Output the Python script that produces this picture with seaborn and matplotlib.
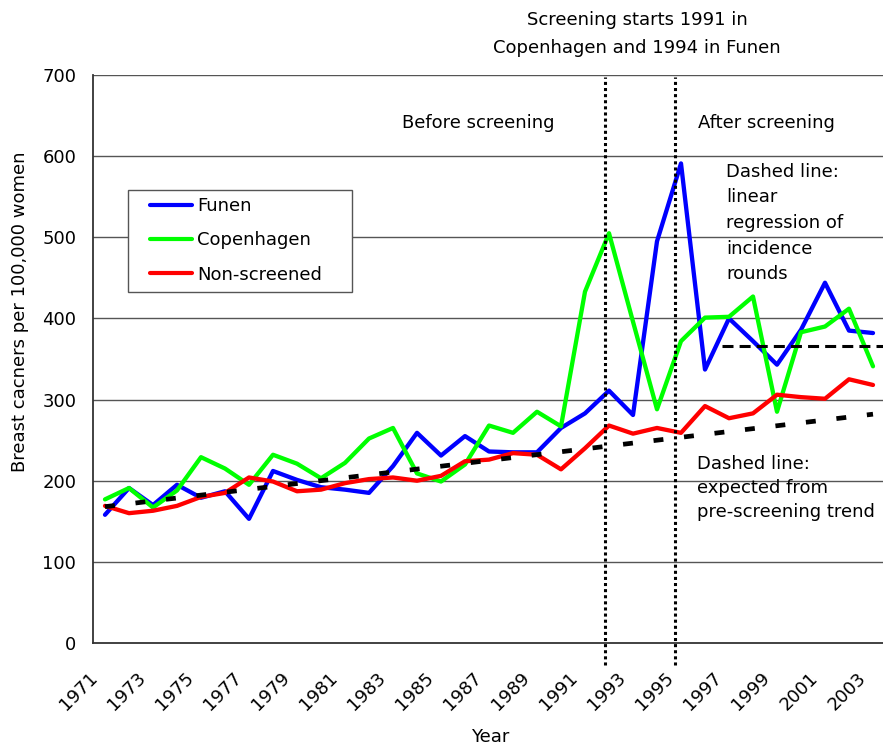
import matplotlib
matplotlib.use("Agg")
import matplotlib.pyplot as plt
import matplotlib.transforms as mtransforms
from matplotlib.patches import Rectangle
from matplotlib.lines import Line2D
import numpy as np
import pandas as pd
import seaborn as sns

years = [1971, 1972, 1973, 1974, 1975, 1976, 1977, 1978, 1979, 1980, 1981,
         1982, 1983, 1984, 1985, 1986, 1987, 1988, 1989, 1990, 1991, 1992,
         1993, 1994, 1995, 1996, 1997, 1998, 1999, 2000, 2001, 2002, 2003]
funen = [158, 191, 170, 195, 179, 187, 153, 212, 201, 192, 189, 185,
         218, 259, 231, 255, 236, 235, 235, 265, 283, 311, 281, 495,
         591, 337, 400, 372, 343, 386, 444, 385, 382]
copenhagen = [177, 191, 167, 188, 229, 215, 195, 232, 221, 203, 222, 252,
              265, 209, 199, 220, 268, 259, 285, 267, 433, 505, 396, 288,
              372, 401, 402, 427, 285, 383, 390, 412, 341]
nonscreened = [169, 160, 163, 169, 180, 185, 204, 199, 187, 189, 197, 202,
               204, 200, 206, 224, 226, 234, 232, 214, 240, 268, 258, 265,
               259, 292, 277, 283, 306, 303, 301, 325, 318]
series_names = ["Funen", "Copenhagen", "Non-screened"]
series_colors = ["#0000FF", "#00FF00", "#FF0000"]

trend_years = [1971, 2003]
trend_values = [168, 282]
rounds_years = [1996.7, 2003.45]
rounds_values = [366, 366]
screen_start_years = [1991.83, 1994.75]

tick_years = [1971, 1973, 1975, 1977, 1979, 1981, 1983, 1985, 1987, 1989,
              1991, 1993, 1995, 1997, 1999, 2001, 2003]
y_ticks = [0, 100, 200, 300, 400, 500, 600, 700]

df = pd.DataFrame({
    "Year": years * 3,
    "Rate": funen + copenhagen + nonscreened,
    "Series": [series_names[0]] * len(years) + [series_names[1]] * len(years)
              + [series_names[2]] * len(years),
})

sns.set_style("white")
plt.rcParams["font.family"] = ["DejaVu Sans"]
plt.rcParams["text.color"] = "black"
plt.rcParams["axes.labelcolor"] = "black"
plt.rcParams["xtick.color"] = "black"
plt.rcParams["ytick.color"] = "black"
FS = 13

W, H = 883, 746
fig = plt.figure(figsize=(W / 100, H / 100), dpi=100)
ax = fig.add_axes([93 / W, (H - 643) / H, 792 / W, (643 - 75) / H])

ax.set_xlim(1970.5, 2003.5)
ax.set_ylim(0, 700)

for v in y_ticks[1:]:
    ax.axhline(v, color="#555555", lw=1.0, zorder=0.5)

sns.lineplot(data=df, x="Year", y="Rate", hue="Series",
             palette=dict(zip(series_names, series_colors)),
             linewidth=3.1, ax=ax, legend=False, zorder=3)

ax.plot(trend_years, trend_values, color="black", lw=3.4,
        dashes=(2.1, 4.4), zorder=4, dash_capstyle="butt")
ax.plot(rounds_years, rounds_values, color="black", lw=2.2,
        dashes=(3.6, 2.0), zorder=4, dash_capstyle="butt")

for yr in screen_start_years:
    ax.plot([yr, yr], [-27, 697], color="black", lw=2.2,
            linestyle=(0, (1, 1)), clip_on=False, zorder=5)

for s in ["top", "right"]:
    ax.spines[s].set_visible(False)
for s in ["left", "bottom"]:
    ax.spines[s].set_color("#333333")
    ax.spines[s].set_linewidth(1.3)

ax.set_yticks(y_ticks)
ax.set_yticklabels([str(v) for v in y_ticks], fontsize=FS)
ax.tick_params(axis="y", direction="out", length=5, width=1, color="#333333", pad=7)

ax.set_xticks(tick_years)
ax.set_xticklabels([str(y) for y in tick_years], fontsize=FS,
                   rotation=45, ha="right", va="center", rotation_mode="anchor")
ax.set_xticks([1970.5 + k for k in range(34)], minor=True)
ax.tick_params(axis="x", which="major", length=0, pad=23)
ax.tick_params(axis="x", which="minor", direction="out", length=5, width=1, color="#333333")
offset = mtransforms.ScaledTranslation(-10 / 100, 0, fig.dpi_scale_trans)
for lab in ax.get_xticklabels():
    lab.set_transform(lab.get_transform() + offset)

ax.set_xlabel("")
ax.set_ylabel("")
fig.text(20 / W, 1 - 312 / H, "Breast cacners per 100,000 women", rotation=90,
         ha="center", va="center", fontsize=FS)
fig.text(490 / W, 1 - 737 / H, "Year", ha="center", va="center", fontsize=FS)

fig.text(637 / W, 1 - 34 / H, "Screening starts 1991 in\nCopenhagen and 1994 in Funen",
         ha="center", va="center", fontsize=FS, linespacing=1.65)
fig.text(478 / W, 1 - 123 / H, "Before screening", ha="center", va="center", fontsize=FS)
fig.text(766 / W, 1 - 123 / H, "After screening", ha="center", va="center", fontsize=FS)
fig.text(726 / W, 1 - 223 / H, "Dashed line:\nlinear\nregression of\nincidence\nrounds",
         ha="left", va="center", fontsize=FS, linespacing=1.55)
fig.text(697 / W, 1 - 488 / H, "Dashed line:\nexpected from\npre-screening trend",
         ha="left", va="center", fontsize=FS, linespacing=1.42)

# legend: frame drawn as a box, entries placed inside it
fig.patches.append(Rectangle((128 / W, 1 - 292 / H), 224 / W, 102 / H,
                             transform=fig.transFigure, facecolor="white",
                             edgecolor="#555555", linewidth=1.0, zorder=6))
handles = [Line2D([0], [0], color=c, lw=3.0) for c in series_colors]
leg = fig.legend(handles, series_names, loc="upper left",
                 bbox_to_anchor=(150 / W, 1 - 197 / H), borderaxespad=0,
                 fontsize=FS, handlelength=2.33, handletextpad=0.28,
                 labelspacing=0.9, borderpad=0, frameon=False)
leg.set_zorder(7)

fig.savefig("out.png", dpi=100)
